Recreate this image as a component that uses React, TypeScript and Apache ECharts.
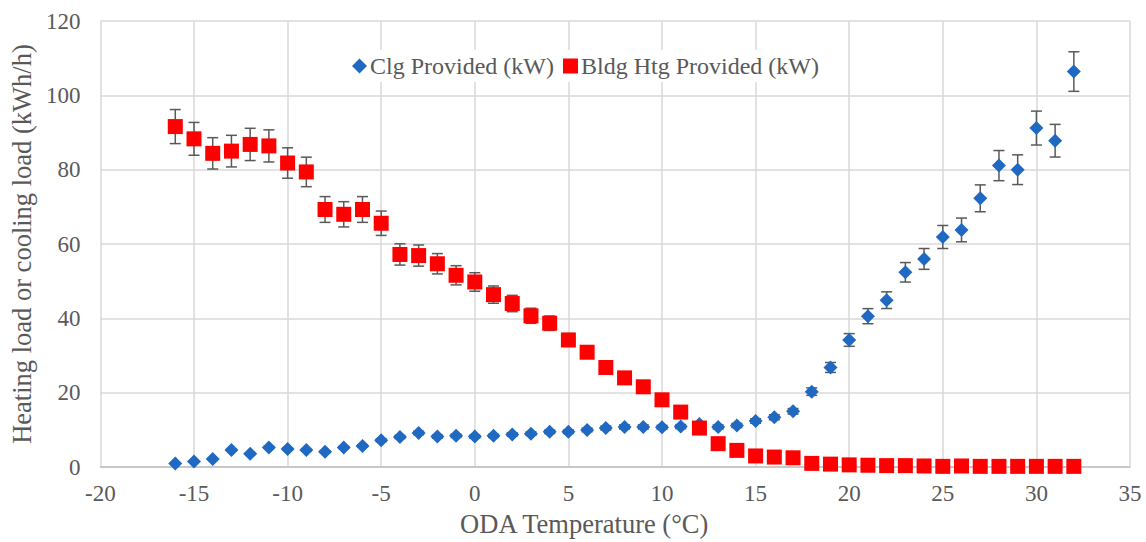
import React, { useEffect, useRef } from "react";
import * as echarts from "echarts";

const temps = [-16, -15, -14, -13, -12, -11, -10, -9, -8, -7, -6, -5, -4, -3, -2, -1, 0, 1, 2, 3, 4, 5, 6, 7, 8, 9, 10, 11, 12, 13, 14, 15, 16, 17, 18, 19, 20, 21, 22, 23, 24, 25, 26, 27, 28, 29, 30, 31, 32];

const coolingProvided = [1.0, 1.5, 2.2, 4.6, 3.6, 5.3, 4.9, 4.6, 4.1, 5.3, 5.7, 7.2, 8.1, 9.2, 8.2, 8.4, 8.2, 8.4, 8.8, 9.0, 9.5, 9.5, 10.0, 10.5, 10.8, 10.8, 10.7, 10.9, 11.6, 10.8, 11.2, 12.4, 13.4, 15.0, 20.3, 26.8, 34.2, 40.6, 44.9, 52.4, 56.0, 61.9, 63.8, 72.3, 81.1, 80.0, 91.2, 87.8, 106.4];

const heatingProvided = [91.6, 88.3, 84.4, 85.0, 86.8, 86.4, 81.8, 79.4, 69.3, 68.0, 69.3, 65.6, 57.2, 56.9, 54.7, 51.6, 49.8, 46.4, 44.0, 40.7, 38.7, 34.2, 30.9, 26.8, 24.0, 21.6, 18.1, 14.8, 10.5, 6.3, 4.5, 3.0, 2.7, 2.5, 1.0, 0.8, 0.6, 0.5, 0.4, 0.4, 0.3, 0.2, 0.3, 0.2, 0.2, 0.2, 0.2, 0.2, 0.2];

// Error bars are a fixed percentage (±5 %) of each value
const errorFraction = 0.05;

const xTicks = { min: -20, max: 35, interval: 5 };
const yTicks = { min: 0, max: 120, interval: 20 };

const FONT = "Liberation Serif";
const TEXT = "#595959";

export default function App() {
  const ref = useRef<HTMLDivElement>(null);
  useEffect(() => {
    if (!ref.current) return;
    const chart = echarts.init(ref.current, null, { renderer: "svg" });

    const errData = (vals: number[]) =>
      temps.map((t, i) => [t, vals[i] * (1 - errorFraction), vals[i] * (1 + errorFraction)]);

    const renderErr = (params: any, api: any) => {
      const x = api.value(0);
      const lo = api.value(1);
      const hi = api.value(2);
      const p1 = api.coord([x, lo]);
      const p2 = api.coord([x, hi]);
      if (Math.abs(p1[1] - p2[1]) < 1) return { type: "group", children: [] };
      const cap = 5.5;
      const style = { stroke: "#595959", lineWidth: 1.5 };
      return {
        type: "group",
        children: [
          { type: "line", shape: { x1: p1[0], y1: p1[1], x2: p2[0], y2: p2[1] }, style },
          { type: "line", shape: { x1: p1[0] - cap, y1: p1[1], x2: p1[0] + cap, y2: p1[1] }, style },
          { type: "line", shape: { x1: p2[0] - cap, y1: p2[1], x2: p2[0] + cap, y2: p2[1] }, style },
        ],
      };
    };

    chart.setOption({
      animation: false,
      backgroundColor: "#ffffff",
      textStyle: { fontFamily: FONT },
      grid: { left: 100, right: 16, top: 21, bottom: 73 },
      legend: {
        left: 348,
        top: 50,
        backgroundColor: "#ffffff",
        padding: [4, 4],
        itemGap: 9,
        itemWidth: 15,
        itemHeight: 15,
        textStyle: { fontFamily: FONT, fontSize: 24, color: TEXT, padding: [0, 0, 0, -2] },
        data: [
          { name: "Clg Provided (kW)", icon: "diamond" },
          { name: "Bldg Htg Provided (kW)", icon: "rect" },
        ],
      },
      xAxis: {
        type: "value",
        min: xTicks.min,
        max: xTicks.max,
        interval: xTicks.interval,
        name: "ODA Temperature (°C)",
        nameLocation: "middle",
        nameGap: 40,
        nameTextStyle: { fontFamily: FONT, fontSize: 26.5, color: TEXT, padding: [0, 62, 0, 0] },
        axisLine: { show: true, lineStyle: { color: "#bfbfbf", width: 1.5 } },
        axisTick: { show: false },
        axisLabel: { fontFamily: FONT, fontSize: 23, color: TEXT, margin: 15 },
        splitLine: { show: true, lineStyle: { color: "#d9d9d9", width: 1.5 } },
      },
      yAxis: {
        type: "value",
        min: yTicks.min,
        max: yTicks.max,
        interval: yTicks.interval,
        name: "Heating load or cooling load (kWh/h)",
        nameLocation: "middle",
        nameGap: 65,
        nameTextStyle: { fontFamily: FONT, fontSize: 26.5, color: TEXT },
        axisLine: { show: false },
        axisTick: { show: false },
        axisLabel: { fontFamily: FONT, fontSize: 23, color: TEXT, margin: 20 },
        splitLine: { show: true, lineStyle: { color: "#d9d9d9", width: 1.5 } },
      },
      series: [
        {
          type: "custom",
          name: "clgErr",
          renderItem: renderErr,
          data: errData(coolingProvided),
          encode: { x: 0, y: [1, 2] },
          z: 1,
          silent: true,
        },
        {
          type: "custom",
          name: "htgErr",
          renderItem: renderErr,
          data: errData(heatingProvided),
          encode: { x: 0, y: [1, 2] },
          z: 1,
          silent: true,
        },
        {
          type: "scatter",
          name: "Clg Provided (kW)",
          symbol: "diamond",
          symbolSize: 14,
          itemStyle: { color: "#1f69c3", opacity: 1 },
          data: temps.map((t, i) => [t, coolingProvided[i]]),
          z: 3,
        },
        {
          type: "scatter",
          name: "Bldg Htg Provided (kW)",
          symbol: "rect",
          symbolSize: 15,
          itemStyle: { color: "#ff0000", opacity: 1 },
          data: temps.map((t, i) => [t, heatingProvided[i]]),
          z: 4,
        },
      ],
    });
    return () => chart.dispose();
  }, []);
  return (
    <div
      ref={ref}
      style={{ position: "fixed", left: 0, top: 0, width: 1146, height: 542 }}
    />
  );
}
